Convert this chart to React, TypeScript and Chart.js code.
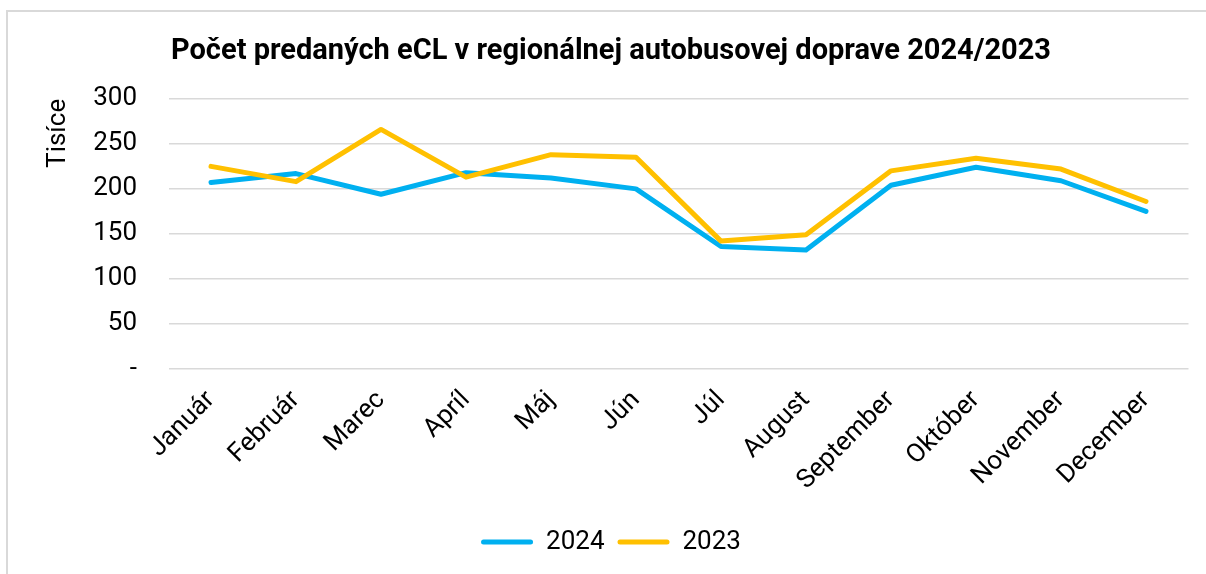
import React, { useEffect, useRef } from "react";
import { Chart, registerables } from "chart.js";

Chart.register(...registerables);

const TITLE = "Počet predaných eCL v regionálnej autobusovej doprave 2024/2023";
const Y_TITLE = "Tisíce";
const MONTHS = ["Január", "Február", "Marec", "Apríl", "Máj", "Jún", "Júl", "August", "September", "Október", "November", "December"];
const SERIES_2024 = [207, 217, 194, 218, 212, 200, 136, 132, 204, 224, 209, 175];
const SERIES_2023 = [225, 208, 266, 213, 238, 235, 142, 149, 220, 234, 222, 186];
const Y_TICKS = [0, 50, 100, 150, 200, 250, 300];

export default function App() {
  const ref = useRef<HTMLCanvasElement | null>(null);

  useEffect(() => {
    document.body.style.margin = "0";
    const canvas = ref.current;
    if (!canvas) return;
    const defaultLabels = Chart.defaults.plugins.legend.labels.generateLabels;
    const chart = new Chart(canvas, {
      type: "line",
      data: {
        labels: MONTHS,
        datasets: [
          {
            label: "2024",
            data: SERIES_2024,
            borderColor: "#00B0F0",
            backgroundColor: "#00B0F0",
            borderWidth: 5,
            pointRadius: 0,
            borderCapStyle: "round",
            borderJoinStyle: "round",
            tension: 0,
            order: 2,
          },
          {
            label: "2023",
            data: SERIES_2023,
            borderColor: "#FFC000",
            backgroundColor: "#FFC000",
            borderWidth: 5,
            pointRadius: 0,
            borderCapStyle: "round",
            borderJoinStyle: "round",
            tension: 0,
            order: 1,
          },
        ],
      },
      options: {
        responsive: false,
        animation: false,
        layout: { padding: { top: 10, left: 33.5, right: 17.5, bottom: 9 } },
        plugins: {
          title: {
            display: true,
            text: TITLE,
            color: "#000",
            font: { family: "Roboto", size: 29, weight: "bold" },
            padding: { top: 24, bottom: 30 },
          },
          legend: {
            position: "bottom",
            labels: {
              color: "#000",
              font: { family: "Roboto", size: 26 },
              boxWidth: 52,
              boxHeight: 5,
              useBorderRadius: true,
              borderRadius: 2.5,
              padding: 13,
              generateLabels: (c: any) =>
                defaultLabels(c).map((l: any) => ({ ...l, lineWidth: 0 })),
              sort: (a: any, b: any) => a.datasetIndex - b.datasetIndex,
            },
          },
          tooltip: { enabled: false },
        },
        scales: {
          x: {
            offset: true,
            grid: { display: false },
            border: { display: false },
            ticks: {
              color: "#000",
              font: { family: "Roboto", size: 26 },
              maxRotation: 45,
              minRotation: 45,
              padding: 8,
            },
            afterFit: (s: any) => {
              s.height = 147;
            },
          },
          y: {
            min: 0,
            max: 300,
            afterBuildTicks: (s: any) => {
              s.ticks = Y_TICKS.map((v) => ({ value: v }));
            },
            grid: { color: "#d9d9d9", lineWidth: 1.5, drawTicks: false },
            border: { display: false },
            ticks: {
              color: "#000",
              font: { family: "Roboto", size: 26 },
              padding: 31.5,
              callback: (v: any) => (Number(v) === 0 ? "-" : String(v)),
            },
            title: {
              display: true,
              text: Y_TITLE,
              align: "end",
              color: "#000",
              font: { family: "Roboto", size: 26 },
              padding: { top: 9, bottom: 0 },
            },
            afterFit: (s: any) => {
              s.width = 135;
            },
          },
        },
      },
    });
    return () => chart.destroy();
  }, []);

  return (
    <div style={{ position: "relative", width: 1206, height: 574, overflow: "hidden", background: "#fff" }}>
      <div
        style={{
          position: "absolute",
          left: 6,
          top: 10,
          width: 1220,
          height: 580,
          border: "2px solid #d9d9d9",
          boxSizing: "border-box",
        }}
      />
      <canvas ref={ref} width={1206} height={574} style={{ position: "absolute", left: 0, top: 0 }} />
    </div>
  );
}
